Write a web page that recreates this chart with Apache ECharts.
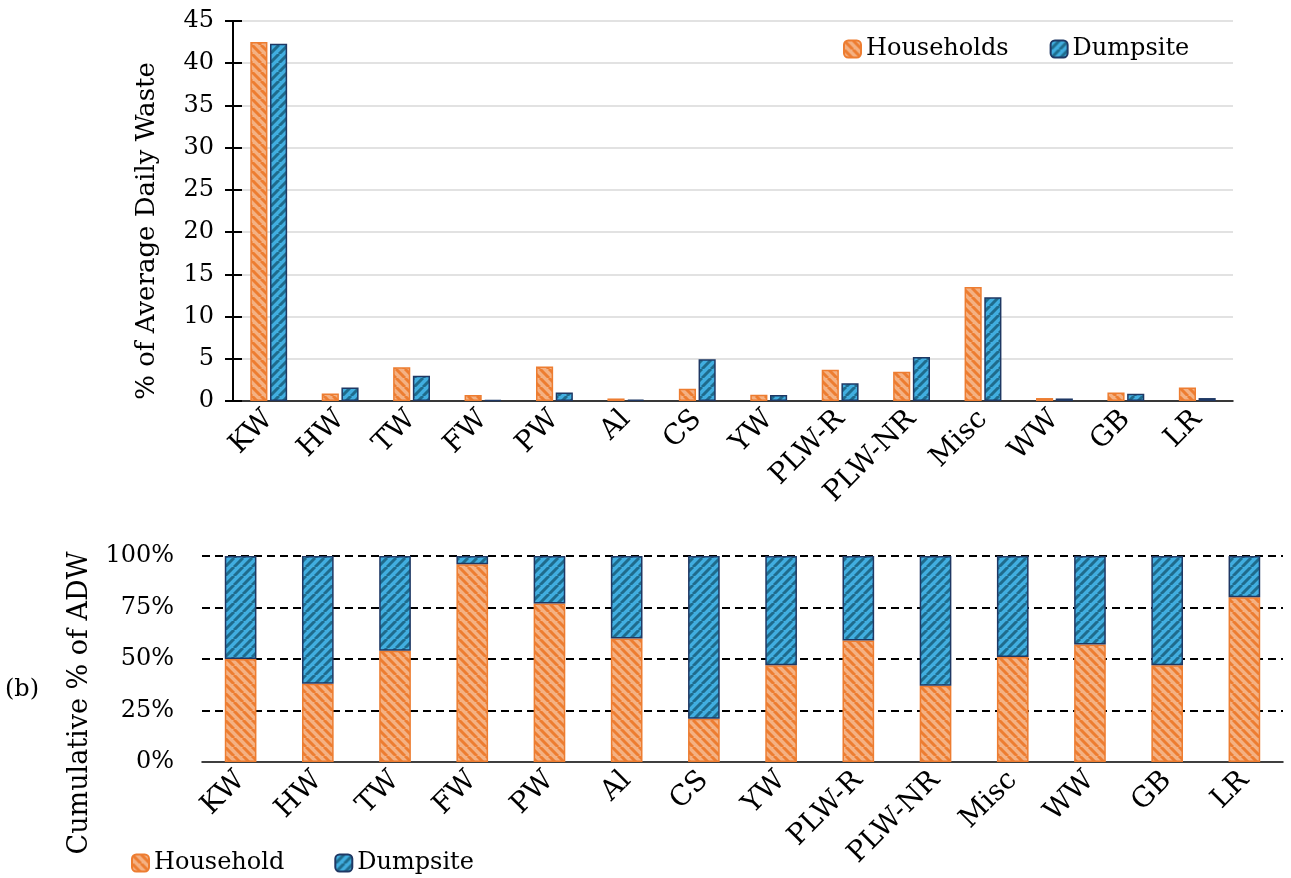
<!DOCTYPE html>
<html>
<head>
<meta charset="utf-8">
<script src="https://cdn.jsdelivr.net/npm/echarts@6/dist/echarts.min.js"></script>
<style>html,body{margin:0;padding:0;background:#fff}#c{width:1291px;height:878px}</style>
</head>
<body>
<div id="c"></div>
<script>
const categories = ['KW','HW','TW','FW','PW','Al','CS','YW','PLW-R','PLW-NR','Misc','WW','GB','LR'];
const householdsPct = [42.5, 0.9, 4.0, 0.7, 4.1, 0.3, 1.45, 0.75, 3.7, 3.45, 13.5, 0.35, 1.0, 1.6];
const dumpsitePct   = [42.3, 1.6, 3.0, 0.1, 1.0, 0.15, 4.95, 0.7, 2.1, 5.2, 12.3, 0.3, 0.85, 0.35];
const householdCum  = [50, 38, 54, 96, 77, 60, 21, 47, 59, 37, 51, 57, 47, 80];
const dumpsiteCum   = [50, 62, 46, 4, 23, 40, 79, 53, 41, 63, 49, 43, 53, 20];
const topTicks = [0, 5, 10, 15, 20, 25, 30, 35, 40, 45];
const bottomTicks = [0, 25, 50, 75, 100];

const FONT = 'DejaVu Serif';

function makePattern(bg, stripe, dir) {
  const s = 9;
  const c = document.createElement('canvas');
  c.width = s; c.height = s;
  const ctx = c.getContext('2d');
  ctx.fillStyle = bg; ctx.fillRect(0, 0, s, s);
  ctx.strokeStyle = stripe; ctx.lineWidth = 3;
  for (const o of [-s, 0, s]) {
    ctx.beginPath();
    if (dir === 'back') { ctx.moveTo(o, 0); ctx.lineTo(o + s, s); }
    else { ctx.moveTo(o, s); ctx.lineTo(o + s, 0); }
    ctx.stroke();
  }
  return { image: c, repeat: 'repeat' };
}
const orangePat = makePattern('#F4B183', '#ED7D31', 'back');
const bluePat = makePattern('#41AEE0', '#1F6B8C', 'fwd');
const orangeStyle = { color: orangePat, borderColor: '#ED7D31', borderWidth: 1.5 };
const blueStyle = { color: bluePat, borderColor: '#1F3864', borderWidth: 1.5 };

const chart = echarts.init(document.getElementById('c'));
const yLabelFont = { fontFamily: FONT, fontSize: 24, color: '#000' };
const xLabelFont = { fontFamily: FONT, fontSize: 28, color: '#000' };

chart.setOption({
  animation: false,
  textStyle: { fontFamily: FONT },
  grid: [
    { left: 233, top: 21, width: 1000, height: 380 },
    { left: 202, top: 556, width: 1081, height: 206 }
  ],
  legend: [
    { left: 838, top: 32, itemWidth: 17, itemHeight: 17, itemGap: 41,
      data: ['Households', 'Dumpsite'],
      textStyle: { fontFamily: FONT, fontSize: 24, color: '#000' } },
    { left: 126, top: 846, itemWidth: 17, itemHeight: 17, itemGap: 50,
      data: ['Household', 'Dumpsite '],
      textStyle: { fontFamily: FONT, fontSize: 24, color: '#000' } }
  ],
  xAxis: [
    { type: 'category', gridIndex: 0, data: categories,
      axisLine: { lineStyle: { color: '#000', width: 1.5 } },
      axisTick: { length: 9, lineStyle: { color: '#000', width: 1.5 } },
      axisLabel: Object.assign({ rotate: 45, margin: 14, interval: 0 }, xLabelFont) },
    { type: 'category', gridIndex: 1, data: categories,
      axisLine: { lineStyle: { color: '#000', width: 1.5 } },
      axisTick: { length: 9, lineStyle: { color: '#000', width: 1.5 } },
      axisLabel: Object.assign({ rotate: 45, margin: 14, interval: 0 }, xLabelFont) }
  ],
  yAxis: [
    { type: 'value', gridIndex: 0, min: topTicks[0], max: topTicks[topTicks.length - 1], interval: 5,
      axisLine: { show: true, lineStyle: { color: '#000', width: 2 } },
      axisTick: { show: true, length: 8, lineStyle: { color: '#000', width: 2 } },
      axisLabel: Object.assign({ margin: 19 }, yLabelFont),
      splitLine: { show: true, lineStyle: { color: '#D9D9D9', width: 1.5 } } },
    { type: 'value', gridIndex: 0, position: 'left', min: topTicks[0], max: topTicks[topTicks.length - 1], interval: 5,
      axisLine: { show: false },
      axisTick: { show: true, inside: true, length: 9, lineStyle: { color: '#000', width: 2 } },
      axisLabel: { show: false }, splitLine: { show: false } },
    { type: 'value', gridIndex: 1, min: bottomTicks[0], max: bottomTicks[bottomTicks.length - 1], interval: 25,
      axisLine: { show: false }, axisTick: { show: false },
      axisLabel: Object.assign({ margin: 28, formatter: v => v + '%' }, yLabelFont),
      splitLine: { show: true, showMinLine: false, lineStyle: { color: '#000', width: 2, type: [8, 5] } } }
  ],
  graphic: [
    { type: 'text', x: 147, y: 231, rotation: Math.PI / 2,
      style: { text: '% of Average Daily Waste', font: '26px "' + FONT + '"', fill: '#000', align: 'center', verticalAlign: 'middle' } },
    { type: 'text', x: 80, y: 703, rotation: Math.PI / 2,
      style: { text: 'Cumulative % of ADW', font: '27px "' + FONT + '"', fill: '#000', align: 'center', verticalAlign: 'middle' } },
    { type: 'text', x: 22, y: 690,
      style: { text: '(b)', font: '24px "' + FONT + '"', fill: '#000', align: 'center', verticalAlign: 'middle' } }
  ],
  series: [
    { name: 'Households', type: 'bar', xAxisIndex: 0, yAxisIndex: 0, data: householdsPct,
      barWidth: '24%', barGap: '15%', itemStyle: orangeStyle },
    { name: 'Dumpsite', type: 'bar', xAxisIndex: 0, yAxisIndex: 0, data: dumpsitePct,
      barWidth: '24%', barGap: '15%', itemStyle: blueStyle },
    { name: 'Household', type: 'bar', xAxisIndex: 1, yAxisIndex: 2, stack: 'cum', data: householdCum,
      barWidth: '41%', itemStyle: orangeStyle },
    { name: 'Dumpsite ', type: 'bar', xAxisIndex: 1, yAxisIndex: 2, stack: 'cum', data: dumpsiteCum,
      barWidth: '41%', itemStyle: blueStyle }
  ]
});
</script>
</body>
</html>
